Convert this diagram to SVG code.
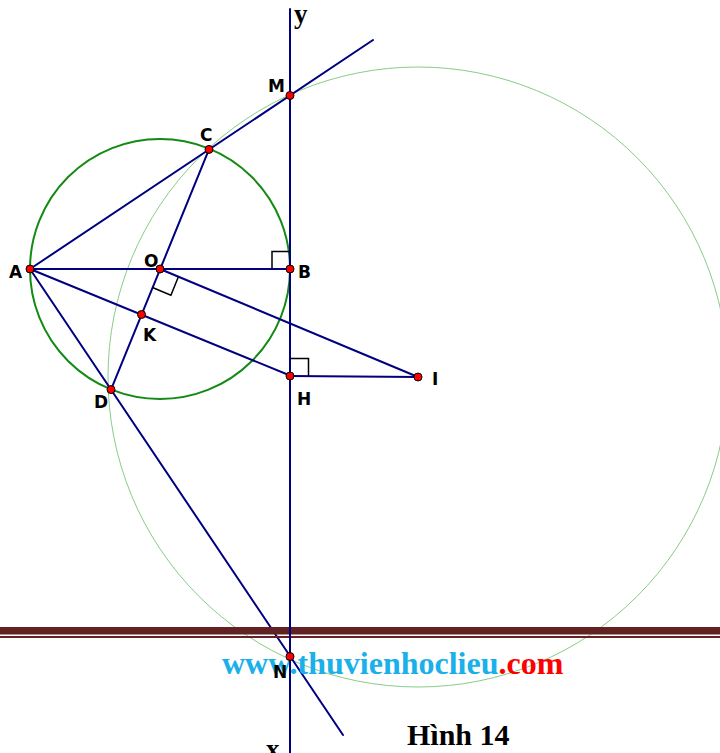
<svg xmlns="http://www.w3.org/2000/svg" width="720" height="753" viewBox="0 0 720 753">
<style>
.ln{stroke:#000080;stroke-width:2;fill:none;stroke-linecap:round}
.ra{stroke:#000;stroke-width:1.5;fill:none}
.pt{fill:#ff0000;stroke:#000;stroke-width:1}
.lb{font-family:"DejaVu Sans",Verdana,sans-serif;font-weight:bold;font-size:17px;fill:#000}
.ax{font-family:"Liberation Serif","Times New Roman",serif;font-weight:bold;font-size:27px;fill:#000}
.wm{font-family:"Liberation Serif","Times New Roman",serif;font-weight:bold;font-size:32px}
.cap{font-family:"Liberation Serif","Times New Roman",serif;font-weight:bold;font-size:30px;fill:#000}
</style>
<rect width="720" height="753" fill="#fff"/>
<g id="circles">
<circle id="bigCircle" cx="418" cy="377" r="310" fill="none" stroke="#88cc88" stroke-width="1"/>
<circle id="smallCircle" cx="160" cy="269" r="130" fill="none" stroke="#138a13" stroke-width="2"/>
</g>
<g id="connectors">
<line class="ln" x1="30" y1="269" x2="373" y2="40"/>
<line class="ln" x1="30" y1="269" x2="290" y2="269"/>
<line class="ln" x1="30" y1="269" x2="343" y2="735"/>
<line class="ln" x1="209" y1="149.4" x2="111" y2="389.6"/>
<line class="ln" x1="30" y1="269" x2="290" y2="375.5"/>
<line class="ln" x1="160" y1="269" x2="418" y2="377"/>
<line class="ln" x1="290" y1="376" x2="418" y2="377"/>
</g>
<g id="band">
<rect x="0" y="627" width="720" height="7.5" fill="#622222"/>
<rect x="0" y="636" width="720" height="2" fill="#622222"/>
</g>
<g id="watermark">
<text class="wm" x="222" y="674"><tspan fill="#1ab0ea">www.thuvienhoclieu</tspan><tspan fill="#ff0000">.com</tspan></text>
</g>
<g id="axis">
<line class="ln" x1="290" y1="9" x2="290" y2="753"/>
<text class="ax" x="294" y="23">y</text>
<text class="ax" x="266" y="758">x</text>
</g>
<g id="rightAngles">
<polyline class="ra" points="272,269 272,251.5 290,251.5"/>
<polyline class="ra" points="290,358.5 308.5,358.5 308.5,376"/>
<polyline class="ra" points="152.5,287.5 170.9,295.2 178.4,276.7"/>
</g>
<g id="node-M"><circle class="pt" cx="290" cy="95.5" r="4"/><text class="lb" x="268" y="92">M</text></g>
<g id="node-C"><circle class="pt" cx="209" cy="149.4" r="4"/><text class="lb" x="200" y="141">C</text></g>
<g id="node-A"><circle class="pt" cx="30" cy="269" r="4"/><text class="lb" x="9" y="278">A</text></g>
<g id="node-O"><circle class="pt" cx="160" cy="269" r="4"/><text class="lb" x="144" y="267">O</text></g>
<g id="node-B"><circle class="pt" cx="290" cy="269" r="4"/><text class="lb" x="298" y="278">B</text></g>
<g id="node-K"><circle class="pt" cx="141.5" cy="314.5" r="4"/><text class="lb" x="143" y="341">K</text></g>
<g id="node-D"><circle class="pt" cx="111" cy="389.6" r="4"/><text class="lb" x="94" y="408">D</text></g>
<g id="node-H"><circle class="pt" cx="290" cy="376" r="4"/><text class="lb" x="297" y="405">H</text></g>
<g id="node-I"><circle class="pt" cx="418" cy="377" r="4"/><text class="lb" x="432" y="385">I</text></g>
<g id="node-N"><circle class="pt" cx="290" cy="656.5" r="4"/><text class="lb" x="273" y="678">N</text></g>
<g id="caption"><text class="cap" x="407" y="745">Hình 14</text></g>
</svg>
